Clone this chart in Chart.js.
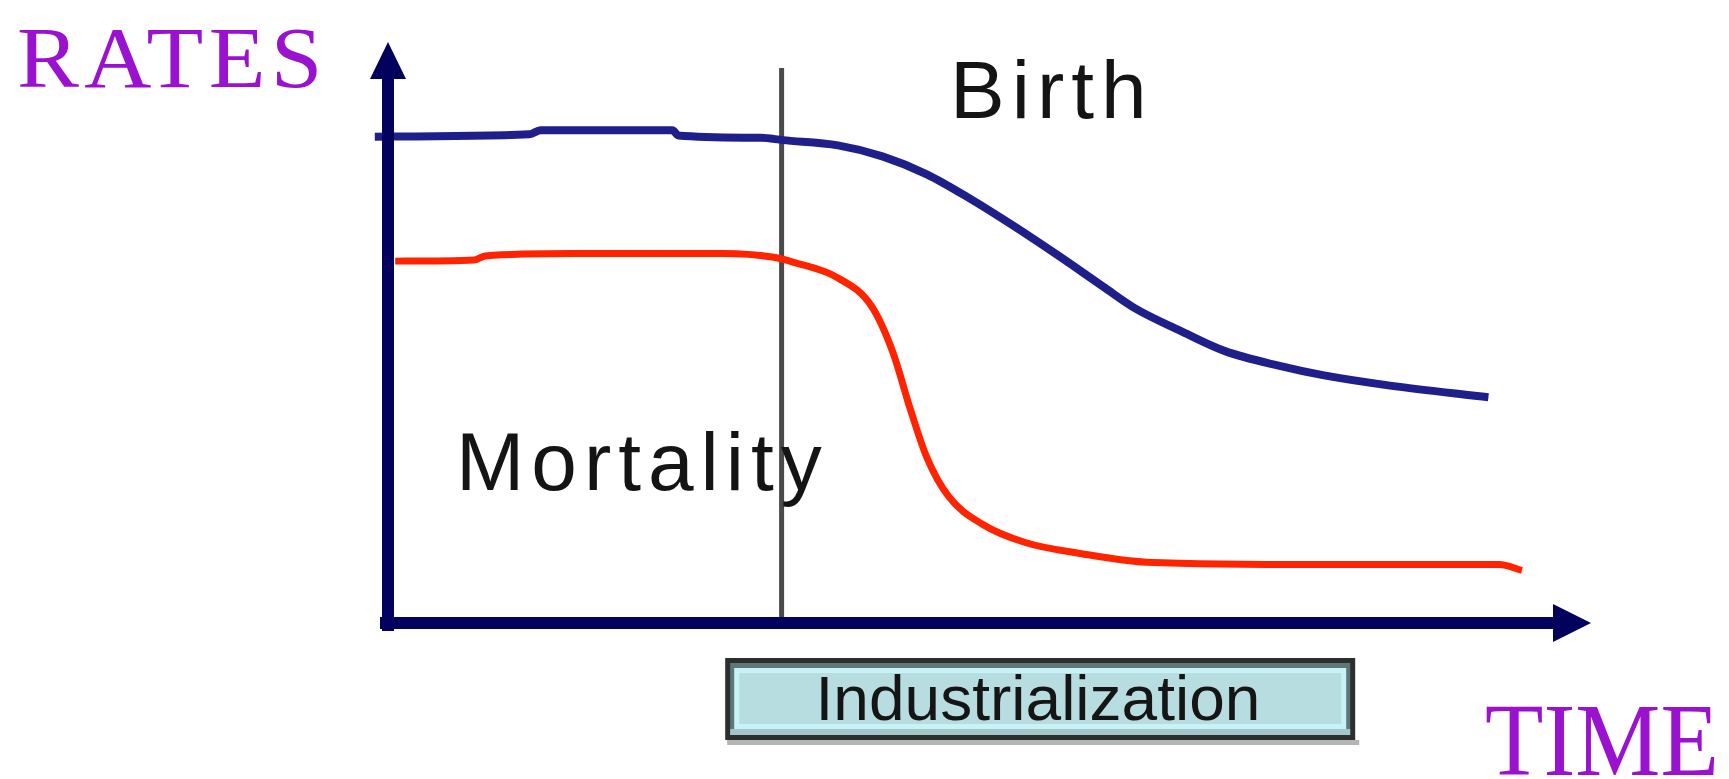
<!DOCTYPE html>
<html>
<head>
<meta charset="utf-8">
<script src="https://cdn.jsdelivr.net/npm/chart.js@4/dist/chart.umd.min.js"></script>
<style>
  html, body { margin: 0; padding: 0; background: #fff; }
  #wrap { width: 1729px; height: 779px; position: relative; }
</style>
</head>
<body>
<div id="wrap"><canvas id="grafico"></canvas></div>
<script>
// Curva de natalidad (tiempo, tasa)
const birthTime = [-1.1, 11.8, 12.7, 23.7, 24.2, 31.1, 32.9, 37.5, 41.2, 44.9, 48.5, 52.2, 55.9, 59.6, 62.3, 66.0, 69.7, 74.3, 77.9, 83.5, 91.7];
const birthRate = [84.0, 84.4, 85.1, 85.1, 84.2, 83.8, 83.4, 82.5, 80.6, 77.5, 73.3, 68.5, 63.4, 58.1, 54.3, 50.5, 47.0, 44.4, 42.8, 41.0, 39.0];

// Curva de mortalidad (tiempo, tasa)
const deathTime = [0.6, 7.2, 8.1, 15.5, 27.9, 32.0, 33.8, 37.5, 40.3, 42.1, 43.5, 44.9, 46.7, 49.5, 53.1, 57.7, 63.2, 77.9, 92.6, 94.5];
const deathRate = [62.5, 62.7, 63.4, 63.8, 63.8, 63.2, 62.3, 59.6, 54.7, 46.6, 37.1, 28.6, 21.9, 17.1, 13.9, 12.0, 10.5, 10.1, 10.1, 9.1];

// Textos y marcas
const axisLabels = ['RATES', 'TIME'];
const curveLabels = ['Birth', 'Mortality'];
const industrialLabel = 'Industrialization';
const industrialStart = 32.8;        // linea vertical
const industrialSpan = [28.1, 80.6]; // caja bajo el eje

function toPoints(xs, ys) {
  return xs.map((x, i) => ({ x: x, y: ys[i] }));
}

const diagrama = {
  id: 'diagrama',
  beforeDatasetsDraw(chart) {
    const { ctx, scales: { x, y } } = chart;
    // linea vertical de industrializacion
    const px = x.getPixelForValue(industrialStart);
    ctx.save();
    ctx.strokeStyle = '#4a4a4a';
    ctx.lineWidth = 5;
    ctx.beginPath();
    ctx.moveTo(px, 68);
    ctx.lineTo(px, y.getPixelForValue(0));
    ctx.stroke();
    ctx.restore();
  },
  afterDatasetsDraw(chart) {
    const { ctx, chartArea, scales: { x, y } } = chart;
    const x0 = x.getPixelForValue(0);
    const y0 = y.getPixelForValue(0);
    const top = chartArea.top - 2;
    const right = chartArea.right + 3;
    ctx.save();
    ctx.strokeStyle = '#02025c';
    ctx.fillStyle = '#02025c';
    ctx.lineWidth = 12;
    // eje Y
    ctx.beginPath();
    ctx.moveTo(x0, y0 + 8);
    ctx.lineTo(x0, top + 25);
    ctx.stroke();
    ctx.beginPath();
    ctx.moveTo(x0, top);
    ctx.lineTo(x0 - 18, top + 37);
    ctx.lineTo(x0 + 18, top + 37);
    ctx.closePath();
    ctx.fill();
    // eje X
    ctx.beginPath();
    ctx.moveTo(x0 - 8, y0);
    ctx.lineTo(right - 25, y0);
    ctx.stroke();
    ctx.beginPath();
    ctx.moveTo(right, y0);
    ctx.lineTo(right - 38, y0 - 19);
    ctx.lineTo(right - 38, y0 + 19);
    ctx.closePath();
    ctx.fill();
    ctx.restore();
  },
  afterDraw(chart) {
    const { ctx, scales: { x } } = chart;
    ctx.save();
    // RATES / TIME
    ctx.fillStyle = '#9a12cf';
    ctx.textBaseline = 'alphabetic';
    ctx.textAlign = 'left';
    ctx.save();
    ctx.translate(17, 87);
    ctx.scale(1.08, 1);
    ctx.font = '86px "Liberation Serif", "DejaVu Serif", serif';
    ctx.letterSpacing = '5px';
    ctx.fillText(axisLabels[0], 0, 0);
    ctx.restore();
    ctx.letterSpacing = '0px';
    ctx.save();
    ctx.translate(1485, 775);
    ctx.scale(0.92, 1);
    ctx.font = '104px "Liberation Serif", "DejaVu Serif", serif';
    ctx.fillText(axisLabels[1], 0, 0);
    ctx.restore();

    // Birth / Mortality
    ctx.fillStyle = '#141414';
    ctx.font = '82px "Liberation Sans", Arial, sans-serif';
    ctx.letterSpacing = '7px';
    ctx.fillText(curveLabels[0], 950, 118);
    ctx.fillText(curveLabels[1], 456, 490);
    ctx.letterSpacing = '0px';

    // caja Industrialization
    const bx1 = x.getPixelForValue(industrialSpan[0]);
    const bx2 = x.getPixelForValue(industrialSpan[1]);
    const by1 = 658, by2 = 740;
    const w = bx2 - bx1, h = by2 - by1;
    ctx.fillStyle = '#b5b5b5';
    ctx.fillRect(bx1 + 2, by2, w + 2, 5);
    ctx.fillStyle = '#2c2f2f';
    ctx.fillRect(bx1, by1, w, h);
    ctx.fillStyle = '#5f7877';
    ctx.fillRect(bx1 + 5, by1 + 5, w - 10, h - 10);
    ctx.fillStyle = '#a5c6c9';
    ctx.fillRect(bx1 + 5, by2 - 11, w - 10, 6);
    ctx.fillStyle = '#c8f3f6';
    ctx.fillRect(bx1 + 9, by1 + 10, w - 18, h - 21);
    ctx.fillStyle = '#b8dde0';
    ctx.fillRect(bx1 + 14, by1 + 15, w - 28, h - 31);

    ctx.fillStyle = '#151515';
    ctx.font = '66px "Liberation Sans", Arial, sans-serif';
    ctx.textAlign = 'center';
    ctx.save();
    ctx.translate(1038, 720);
    ctx.scale(0.97, 0.95);
    ctx.fillText(industrialLabel, 0, 0);
    ctx.restore();
    ctx.restore();
  }
};

new Chart(document.getElementById('grafico').getContext('2d'), {
  type: 'line',
  data: {
    datasets: [{
      label: curveLabels[0],
      data: toPoints(birthTime, birthRate),
      borderColor: '#1f1f8c',
      borderWidth: 8,
      pointRadius: 0,
      cubicInterpolationMode: 'monotone',
      fill: false
    }, {
      label: curveLabels[1],
      data: toPoints(deathTime, deathRate),
      borderColor: '#ff2300',
      borderWidth: 7,
      pointRadius: 0,
      cubicInterpolationMode: 'monotone',
      fill: false
    }]
  },
  options: {
    responsive: true,
    maintainAspectRatio: false,
    animation: false,
    layout: { padding: { left: 364, right: 141, top: 44, bottom: 156 } },
    plugins: {
      legend: { display: false },
      tooltip: { enabled: false }
    },
    scales: {
      x: { type: 'linear', min: -2, max: 100, display: false },
      y: { min: 0, max: 100, display: false }
    }
  },
  plugins: [diagrama]
});
</script>
</body>
</html>
